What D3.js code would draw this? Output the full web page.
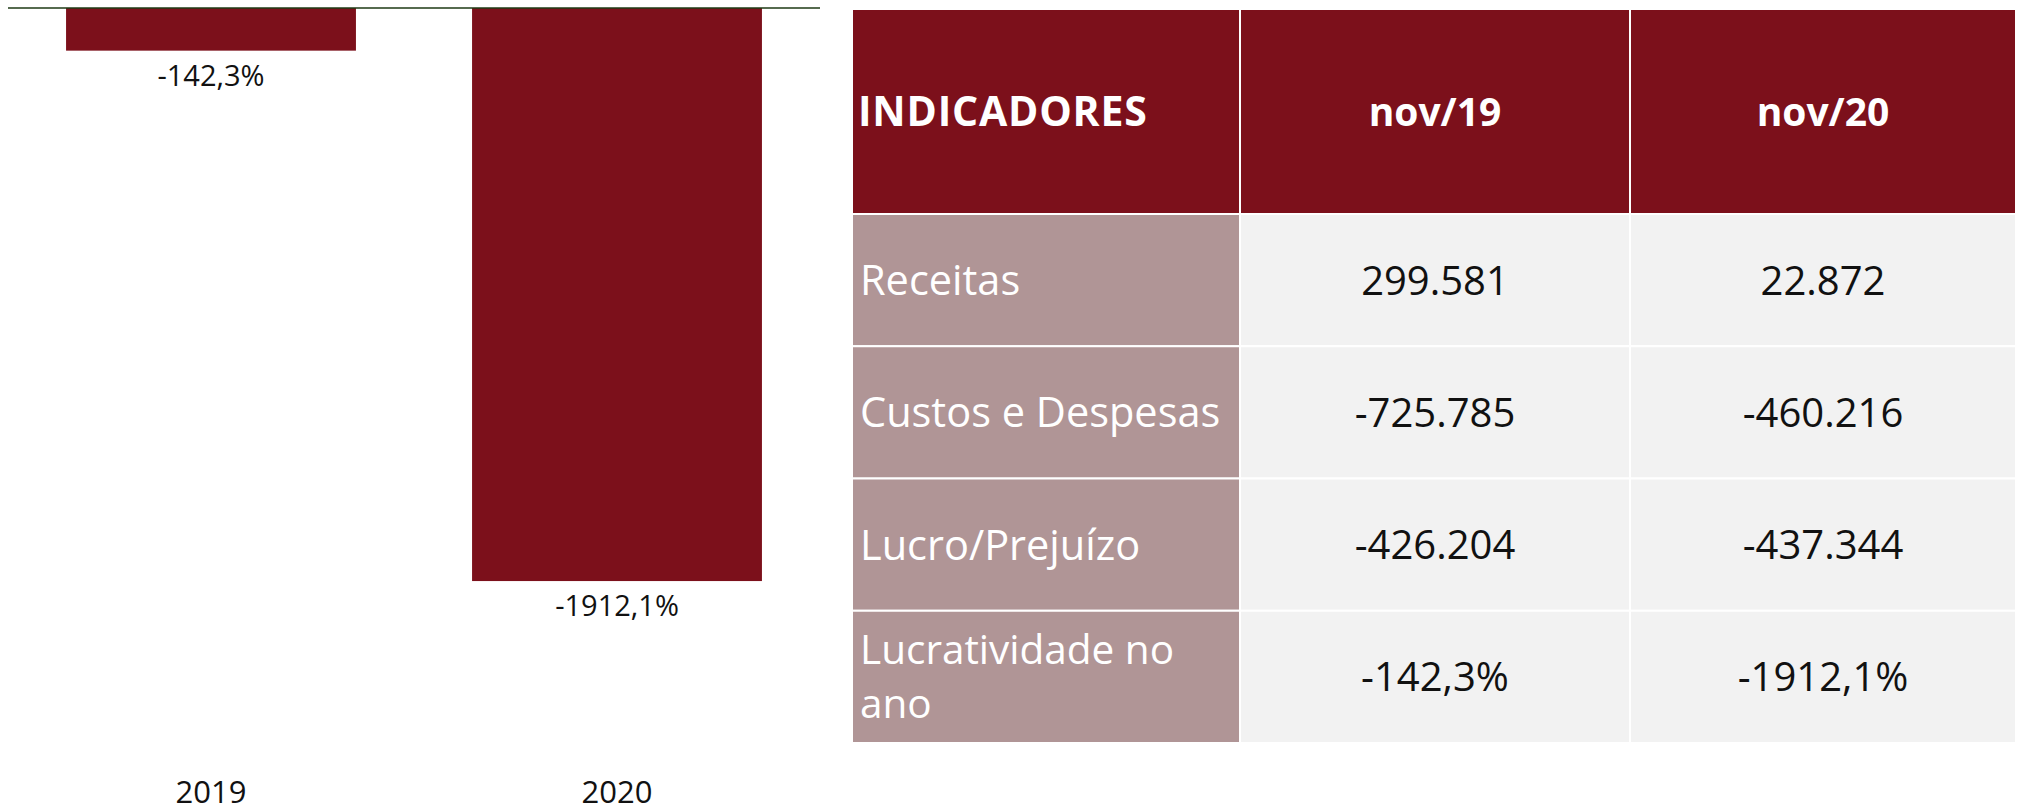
<!DOCTYPE html>
<html>
<head>
<meta charset="utf-8">
<script src="https://cdn.jsdelivr.net/npm/d3@7"></script>
<style>
  html, body { margin: 0; padding: 0; background: #ffffff; }
  svg { display: block; }
</style>
</head>
<body>
<svg id="chart" width="2024" height="811"></svg>
<script>
// ---- data ----
const years = ["2019", "2020"];
const lucratividade = [-142.3, -1912.1];
const barLabels = ["-142,3%", "-1912,1%"];

const tableColumns = ["INDICADORES", "nov/19", "nov/20"];
const indicadores = ["Receitas", "Custos e Despesas", "Lucro/Prejuízo", "Lucratividade no ano"];
const nov19 = ["299.581", "-725.785", "-426.204", "-142,3%"];
const nov20 = ["22.872", "-460.216", "-437.344", "-1912,1%"];

// ---- styles ----
const DARK_RED = "#7C101B";
const MAUVE = "#B09596";
const LIGHT = "#F2F2F2";
const FONT = "'Open Sans', sans-serif";

const svg = d3.select("#chart");

// ---- bar chart ----
const x = d3.scaleBand().domain(years).range([8, 820]).paddingInner(0.286).paddingOuter(0.143);
const y = d3.scaleLinear().domain([0, -2000]).range([8, 607.4]);

const g = svg.append("g");
g.selectAll("rect.bar")
  .data(years)
  .join("rect")
  .attr("class", "bar")
  .attr("x", d => x(d))
  .attr("width", x.bandwidth())
  .attr("y", y(0))
  .attr("height", (d, i) => y(lucratividade[i]) - y(0))
  .attr("fill", DARK_RED);

g.append("line")
  .attr("x1", x.range()[0]).attr("x2", x.range()[1])
  .attr("y1", y(0)).attr("y2", y(0))
  .attr("stroke", "#1E3A14").attr("stroke-width", 1.5);

g.selectAll("text.val")
  .data(years)
  .join("text")
  .attr("class", "val")
  .attr("x", d => x(d) + x.bandwidth() / 2)
  .attr("y", (d, i) => y(lucratividade[i]) + 35)
  .attr("text-anchor", "middle")
  .attr("font-family", FONT)
  .attr("font-size", 29)
  .attr("fill", "#111")
  .text((d, i) => barLabels[i]);

const xAxis = d3.axisBottom(x).tickSize(0).tickPadding(0);
const ax = g.append("g").attr("transform", "translate(0,781)").call(xAxis);
ax.select(".domain").remove();
ax.selectAll("text")
  .attr("font-family", FONT)
  .attr("font-size", 31)
  .attr("fill", "#111")
  .attr("dy", "0.71em");

// ---- table ----
const colX = d3.scaleOrdinal().domain(tableColumns).range([852, 1240, 1630]);
const colW = d3.scaleOrdinal().domain(tableColumns).range([388, 390, 386]);
const headerTop = 9, headerBottom = 214;
const rowY = d3.scaleBand().domain(indicadores).range([headerBottom, 743]);

const t = svg.append("g");
// header
t.selectAll("rect.head")
  .data(tableColumns)
  .join("rect")
  .attr("class", "head")
  .attr("x", d => colX(d))
  .attr("y", headerTop)
  .attr("width", d => colW(d))
  .attr("height", headerBottom - headerTop)
  .attr("fill", DARK_RED)
  .attr("stroke", "#ffffff")
  .attr("stroke-width", 2);

t.selectAll("text.head")
  .data(tableColumns)
  .join("text")
  .attr("class", "head")
  .attr("x", (d, i) => i === 0 ? colX(d) + 6 : colX(d) + colW(d) / 2)
  .attr("y", (headerTop + headerBottom) / 2)
  .attr("dy", "0.36em")
  .attr("text-anchor", (d, i) => i === 0 ? "start" : "middle")
  .attr("font-family", FONT)
  .attr("font-weight", "bold")
  .attr("font-size", (d, i) => i === 0 ? 41 : 39)
  .attr("letter-spacing", (d, i) => i === 0 ? 0.8 : 0)
  .attr("fill", "#ffffff")
  .text(d => d);

// body
indicadores.forEach((key, ri) => {
  tableColumns.forEach((col, ci) => {
    t.append("rect")
      .attr("x", colX(col))
      .attr("y", rowY(key))
      .attr("width", colW(col))
      .attr("height", rowY.bandwidth())
      .attr("fill", ci === 0 ? MAUVE : LIGHT)
      .attr("stroke", "#ffffff")
      .attr("stroke-width", 2);
  });
  // first column label (may wrap)
  const lines = key === "Lucratividade no ano" ? ["Lucratividade no", "ano"] : [key];
  const cy = rowY(key) + rowY.bandwidth() / 2;
  const lh = 54;
  lines.forEach((ln, li) => {
    t.append("text")
      .attr("font-family", FONT)
      .attr("font-size", lines.length > 1 ? 40.5 : 41.5)
      .attr("fill", "#ffffff")
      .attr("x", colX(tableColumns[0]) + 8)
      .attr("y", cy + (li - (lines.length - 1) / 2) * lh)
      .attr("dy", "0.36em")
      .text(ln);
  });
  [nov19[ri], nov20[ri]].forEach((val, k) => {
    const col = tableColumns[k + 1];
    t.append("text")
      .attr("x", colX(col) + colW(col) / 2)
      .attr("y", cy)
      .attr("dy", "0.36em")
      .attr("text-anchor", "middle")
      .attr("font-family", FONT)
      .attr("font-size", 40)
      .attr("fill", "#111")
      .text(val);
  });
});
</script>
</body>
</html>
